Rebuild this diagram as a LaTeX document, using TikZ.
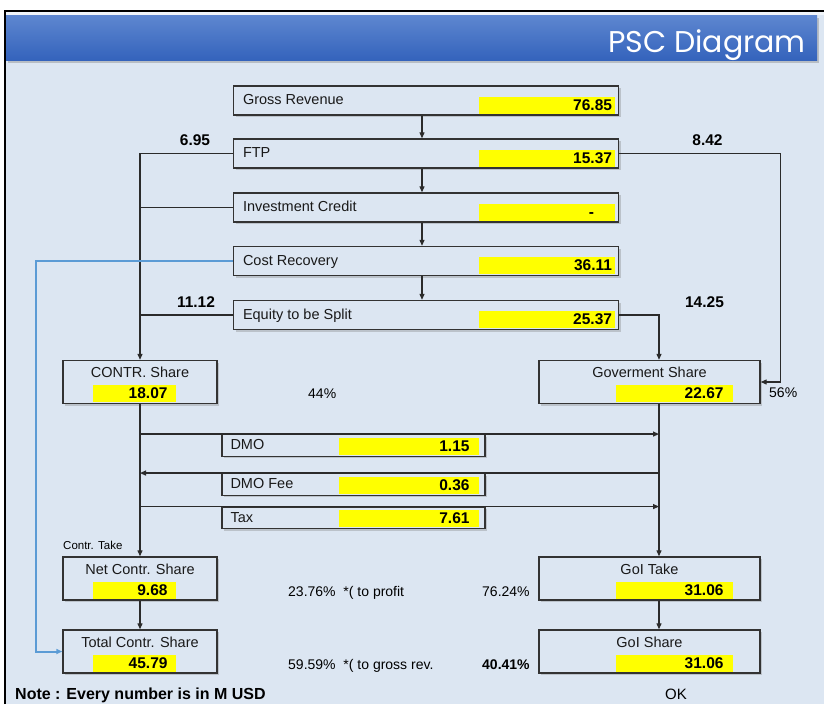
\documentclass[tikz,border=0pt]{standalone}
\usepackage{fontspec}
\setmainfont{Liberation Sans}
\newfontfamily\titlefont{Poppins}
\usetikzlibrary{calc, positioning, arrows.meta, shadows}

\definecolor{panel}{HTML}{DCE6F2}
\definecolor{barTop}{HTML}{5E87D0}
\definecolor{barBot}{HTML}{3463BC}
\definecolor{hiyellow}{HTML}{FFFF00}
\definecolor{boxline}{HTML}{333333}
\definecolor{flowline}{HTML}{2B2B2B}
\definecolor{recover}{HTML}{5B9BD5}

\tikzset{
  flowbox/.style={draw=boxline, line width=1.4pt, fill=panel, inner sep=0pt,
    drop shadow={shadow xshift=2pt, shadow yshift=-2pt, opacity=0.35}},
  hilite/.style={fill=hiyellow},
  lbl/.style={font=\fontsize{14.5}{17}\selectfont, text=black!90, inner sep=0pt},
  val/.style={font=\fontsize{15.5}{18}\selectfont\bfseries, inner sep=0pt},
  pct/.style={font=\fontsize{14}{17}\selectfont, inner sep=0pt},
  flow/.style={draw=flowline, line width=1.2pt, -{Triangle[length=6pt,width=5pt]}},
  link/.style={draw=flowline, line width=1.2pt},
}

\begin{document}
\begin{tikzpicture}[x=1pt, y=-1pt]
  \useasboundingbox (0,0) rectangle (824,704);
  % window and title bar
  \fill[white] (0,0) rectangle (824,704);
  \fill[panel] (5,11) rectangle (824,704);
  \fill[white!60!panel] (6,12) rectangle (824,15);
  \path[top color=barTop, bottom color=barBot,
    drop shadow={shadow xshift=2pt, shadow yshift=-2.5pt, opacity=0.4}] (6,15) rectangle (817,60);
  \node[font=\titlefont\fontsize{30}{34}\selectfont, text=white, anchor=base east, inner sep=0pt] (title) at (806,52) {PSC Diagram};
  \draw[black, line width=2pt] (5,704) -- (5,11) -- (824,11);

  % main column
  \foreach \nm/\yy/\txt/\amt in {gross/100.5/Gross Revenue/76.85, ftp/153.5/FTP/15.37,
      invest/207.5/Investment Credit/-\hspace*{18pt}, cost/261/Cost Recovery/36.11,
      equity/315/Equity to be Split/25.37} {
    \node[flowbox, minimum width=385, minimum height=29] (\nm) at (426,\yy) {};
    \fill[hilite] ($(\nm.south east)+(-4,-2)$) rectangle ($(\nm.south east)+(-140,-19)$);
    \node[lbl, anchor=base west] (\nm-lbl) at ($(\nm.west)+(10,4)$) {\txt};
    \node[val, anchor=base east] (\nm-val) at ($(\nm.east)+(-7,9.5)$) {\amt};
  }

  % contractor column
  \foreach \nm/\yy/\txt/\amt in {contr/382/CONTR. Share/18.07, net/578.5/Net Contr. Share/9.68,
      total/651.5/Total Contr. Share/45.79} {
    \node[flowbox, minimum width=154, minimum height=43] (\nm) at (140,\yy) {};
    \fill[hilite] ($(\nm.south east)+(-42,-2)$) rectangle ($(\nm.south east)+(-125,-19)$);
    \node[lbl, anchor=base] (\nm-lbl) at ($(\nm.north)+(0,18)$) {\txt};
    \node[val, anchor=base east] (\nm-val) at ($(\nm.south east)+(-50,-5.5)$) {\amt};
  }

  % government column
  \foreach \nm/\yy/\txt/\amt in {gov/382/Goverment Share/22.67, goltake/578.5/GoI Take/31.06,
      golshare/651.5/GoI Share/31.06} {
    \node[flowbox, minimum width=221, minimum height=43] (\nm) at (649.5,\yy) {};
    \fill[hilite] ($(\nm.south east)+(-28,-2)$) rectangle ($(\nm.south east)+(-145,-19)$);
    \node[lbl, anchor=base] (\nm-lbl) at ($(\nm.north)+(0,18)$) {\txt};
    \node[val, anchor=base east] (\nm-val) at ($(\nm.south east)+(-37,-5.5)$) {\amt};
  }

  % DMO, fee and tax
  \foreach \nm/\yy/\txt/\amt in {dmo/445.5/DMO/1.15, dmofee/484.5/DMO Fee/0.36, tax/518/Tax/7.61} {
    \node[flowbox, minimum width=263, minimum height=21.5] (\nm) at (353.5,\yy) {};
    \fill[hilite] ($(\nm.south east)+(-7,-2)$) rectangle ($(\nm.south east)+(-147,-19)$);
    \node[lbl, anchor=base west] (\nm-lbl) at ($(\nm.west)+(9,4)$) {\txt};
    \node[val, anchor=base east] (\nm-val) at ($(\nm.east)+(-16,5.5)$) {\amt};
  }

  % connectors
  \foreach \a/\b in {gross/ftp, ftp/invest, invest/cost, cost/equity}
    \draw[flow] ([xshift=-4pt]\a.south) -- ([xshift=-4pt]\b.north);
  \draw[flow] (ftp.west) -| (contr.north);
  \draw[link] (invest.west) -- (invest.west -| contr.north);
  \draw[link] (equity.west) -- (equity.west -| contr.north);
  \coordinate (govx) at ([xshift=9.5pt]gov.north);
  \draw[flow] (ftp.east) -| ([xshift=20pt]gov.east) -- (gov.east);
  \draw[flow] (equity.east) -| (govx);
  \draw[flow] (contr.south) -- (net.north);
  \draw[flow] (net.south) -- (total.north);
  \draw[flow] ([xshift=9.5pt]gov.south) -- ([xshift=9.5pt]goltake.north);
  \draw[flow] ([xshift=9.5pt]goltake.south) -- ([xshift=9.5pt]golshare.north);
  \draw[flow] (dmo.north -| contr.south) -- (dmo.north -| govx);
  \draw[flow] (dmofee.north -| govx) -- (dmofee.north -| contr.south);
  \draw[flow] (tax.north -| contr.south) -- (tax.north -| govx);
  \draw[flow, draw=recover, line width=2pt] (cost.west) -| ([xshift=-26pt]total.west) -- (total.west);

  % split figures
  \node[val, anchor=base] (ftp-contr) at (195,145) {6.95};
  \node[val, anchor=base] (ftp-gov) at (707.5,145) {8.42};
  \node[val, anchor=base] (eq-contr) at (196,307) {11.12};
  \node[val, anchor=base] (eq-gov) at (704.5,307) {14.25};
  \node[pct, anchor=base west] (contr-pct) at (308,398) {44\%};
  \node[pct, anchor=base west] (gov-pct) at (769,397) {56\%};
  \node[font=\fontsize{11.5}{13}\selectfont, anchor=base west, inner sep=0pt] (take) at (63,549) {Contr. Take};
  \node[pct, anchor=base west] (net-pct) at (288,596) {23.76\%\ \ *( to profit};
  \node[pct, anchor=base west] (total-pct) at (288,669) {59.59\%\ \ *( to gross rev.};
  \node[pct, anchor=base west] (take-pct) at (482,596) {76.24\%};
  \node[pct, anchor=base west, font=\fontsize{14}{17}\selectfont\bfseries] (share-pct) at (482,669) {40.41\%};
  \node[font=\fontsize{16}{18}\selectfont\bfseries, anchor=base west, inner sep=0pt] (note) at (15,699) {Note : Every number is in M USD};
  \node[font=\fontsize{15}{18}\selectfont, anchor=base west, inner sep=0pt] (ok) at (665,699) {OK};
\end{tikzpicture}
\end{document}
